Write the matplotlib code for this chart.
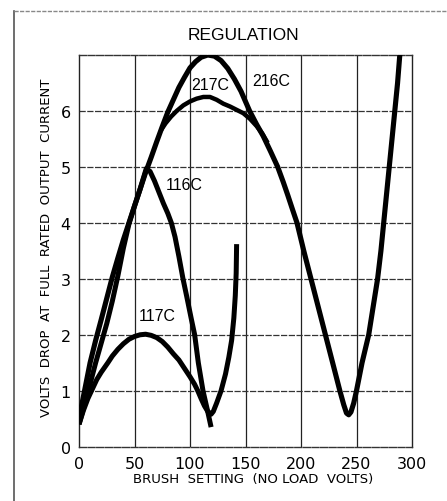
import matplotlib
matplotlib.use("Agg")
import matplotlib.pyplot as plt
from matplotlib.lines import Line2D

# ---- data ----
x_ticks = [0, 50, 100, 150, 200, 250, 300]
x_tick_labels = ["0", "50", "100", "150", "200", "250", "300"]
y_ticks = [0, 1, 2, 3, 4, 5, 6]
y_tick_labels = ["0", "1", "2", "3", "4", "5", "6"]

c216_x = [0, 5, 10, 15, 20, 25, 30, 35, 40, 45, 50, 55, 60, 65, 70, 75, 80, 85, 90, 95, 100,
          105, 110, 116, 122, 128, 134, 140, 146, 153.7, 160, 166, 172.5, 179, 184, 188, 192,
          196.4, 202.5, 209, 215.5, 222, 228.5, 235, 238.5, 241, 243, 245, 247.5, 250, 255,
          261, 265, 269, 272, 274.5, 277, 279.5, 282, 284.5, 287, 289, 291]
c216_y = [0.5, 1.0, 1.5, 1.9, 2.27, 2.65, 3.03, 3.37, 3.7, 4.0, 4.3, 4.6, 4.9, 5.17, 5.45, 5.72,
          5.98, 6.2, 6.42, 6.6, 6.77, 6.88, 6.96, 7.0, 6.98, 6.9, 6.76, 6.57, 6.35, 6.0, 5.76,
          5.55, 5.28, 5.0, 4.73, 4.5, 4.26, 4.0, 3.5, 3.0, 2.5, 2.0, 1.5, 1.0, 0.75, 0.6, 0.57,
          0.62, 0.78, 1.0, 1.5, 2.0, 2.5, 3.0, 3.5, 4.0, 4.5, 5.0, 5.5, 6.0, 6.5, 7.0, 7.4]

c217_x = [74, 78, 83, 88, 94, 100, 106, 112, 118, 124, 130, 136, 142, 148, 154, 160, 165, 170]
c217_y = [5.66, 5.78, 5.9, 6.0, 6.1, 6.17, 6.22, 6.25, 6.25, 6.2, 6.13, 6.08, 6.02, 5.96, 5.86,
          5.73, 5.6, 5.43]

c116_x = [0, 5, 10, 15, 20, 25, 30, 35, 40, 45, 50, 55, 60.6, 64, 68, 72, 76, 80, 83.2, 86.5,
          90, 93.7, 97, 101, 104.2, 107.5, 111.7, 115.5, 119]
c116_y = [0.4, 0.75, 1.12, 1.5, 1.85, 2.2, 2.6, 3.05, 3.55, 3.98, 4.3, 4.6, 4.97, 4.92, 4.75,
          4.55, 4.35, 4.17, 4.0, 3.75, 3.4, 3.0, 2.69, 2.3, 2.0, 1.5, 1.0, 0.67, 0.35]

c117_x = [0, 4, 8, 12, 16, 20, 26, 30, 35, 40, 45, 50, 55, 60, 65, 70, 75, 80, 85, 90, 95, 100,
          104, 107, 110, 113, 116, 119, 121, 124, 128, 132, 135, 137.5, 139.5, 140.8, 141.6, 142]
c117_y = [0.4, 0.65, 0.86, 1.03, 1.2, 1.33, 1.5, 1.62, 1.74, 1.84, 1.92, 1.97, 2.0, 2.01, 1.99,
          1.95, 1.88, 1.78, 1.66, 1.55, 1.4, 1.25, 1.12, 1.0, 0.86, 0.73, 0.63, 0.58, 0.63, 0.78,
          1.0, 1.3, 1.6, 1.9, 2.3, 2.7, 3.1, 3.62]

curve_labels = ["217C", "216C", "116C", "117C"]
label_x = [118.6, 173.2, 94.8, 70.4]
label_y = [6.48, 6.55, 4.68, 2.34]

title = "REGULATION"
xlabel = "BRUSH  SETTING  (NO LOAD  VOLTS)"
ylabel = "VOLTS  DROP  AT  FULL  RATED  OUTPUT  CURRENT"

# ---- figure ----
fig = plt.figure(figsize=(4.47, 5.02), dpi=100)
fig.patch.set_facecolor("white")
ax = fig.add_axes([79 / 447, (502 - 447.7) / 502, 333 / 447, 391.7 / 502])
ax.set_xlim(0, 300)
ax.set_ylim(0, 7)

# grid
for xv in x_ticks[1:-1]:
    ax.axvline(xv, color="#222222", lw=0.9, zorder=1)
for yv in y_ticks[1:]:
    ax.axhline(yv, color="#333333", lw=0.9, ls=(0, (5, 1.2)), zorder=1)

for s in ["left", "right"]:
    ax.spines[s].set_color("#222222")
    ax.spines[s].set_linewidth(1.0)
for s in ["top", "bottom"]:
    ax.spines[s].set_color("#333333")
    ax.spines[s].set_linewidth(1.0)
    ax.spines[s].set_linestyle((0, (5, 1.2)))

kw = dict(color="black", solid_capstyle="butt", solid_joinstyle="round", zorder=3)
ax.plot(c216_x, c216_y, lw=3.7, **kw)
ax.plot(c217_x, c217_y, lw=3.2, **kw)
ax.plot(c116_x, c116_y, lw=3.6, **kw)
ax.plot(c117_x, c117_y, lw=3.6, **kw)

for t, lx, ly in zip(curve_labels, label_x, label_y):
    ax.text(lx, ly, t, ha="center", va="center", fontsize=11.5,
            family="Liberation Sans", zorder=4)

ax.set_xticks(x_ticks)
ax.set_xticklabels(x_tick_labels)
ax.set_yticks(y_ticks)
ax.set_yticklabels(y_tick_labels)
ax.tick_params(length=0, labelsize=11.5, pad=7)
ax.tick_params(axis="y", pad=6)
for lab in ax.get_xticklabels() + ax.get_yticklabels():
    lab.set_family("DejaVu Sans")

ax.set_xlabel(xlabel, fontsize=9.5, family="DejaVu Sans", va="center")
ax.xaxis.set_label_coords(0.523, -0.0817)
ax.set_ylabel(ylabel, fontsize=9.5, family="DejaVu Sans", va="center")
ax.yaxis.set_label_coords(-0.099, 0.51)
ax.set_title(title, x=0.4925, y=1.0306, va="center", fontsize=12.5,
             family="Liberation Sans")

# outer frame of the scanned page
fig.add_artist(Line2D([14 / 447, 14 / 447], [0, 1 - 12 / 502], color="#555555", lw=1.2,
                      transform=fig.transFigure))
fig.add_artist(Line2D([14 / 447, 1], [1 - 12 / 502, 1 - 12 / 502], color="#888888", lw=1.0,
                      ls=(0, (3, 1)), transform=fig.transFigure))

fig.savefig("out.png", dpi=100)
